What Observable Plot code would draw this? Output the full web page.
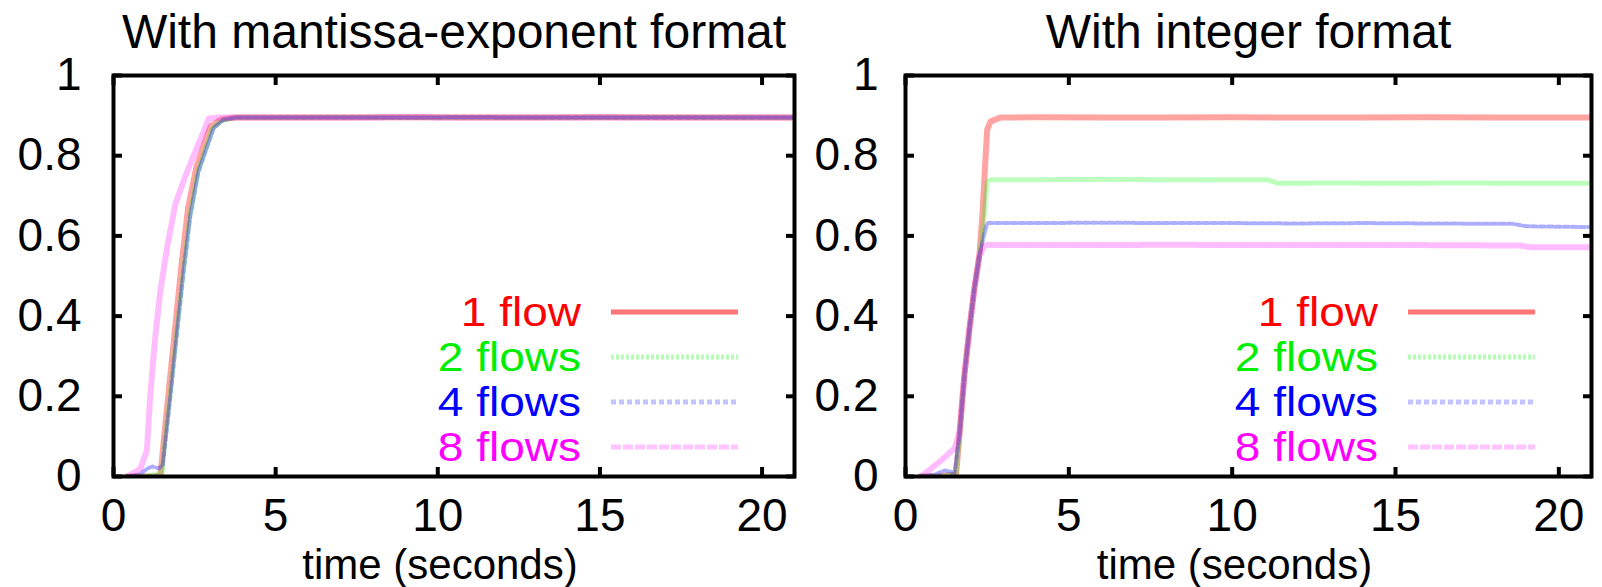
<!DOCTYPE html>
<html><head><meta charset="utf-8">
<script src="https://cdn.jsdelivr.net/npm/d3@7"></script>
<script src="https://cdn.jsdelivr.net/npm/@observablehq/plot@0.6"></script>
<style>
html,body{margin:0;padding:0;background:#fff;}
#wrap{position:relative;width:1602px;height:587px;overflow:hidden;background:#fff;}
.panel{position:absolute;top:0;}
</style></head><body><div id="wrap"></div>
<script>
// ---- labels / categories ----
const seriesNames = ["1 flow", "2 flows", "4 flows", "8 flows"];
const panelTitles = ["With mantissa-exponent format", "With integer format"];
const xLabel = "time (seconds)";
const xTicks = [0, 5, 10, 15, 20];
const yTicks = [0, 0.2, 0.4, 0.6, 0.8, 1];
const yTickLabels = ["0", "0.2", "0.4", "0.6", "0.8", "1"];

// ---- left panel: mantissa-exponent format ----
const leftT1 = [0.4, 0.9, 1.3, 1.45, 1.55, 1.7, 1.9, 2.1, 2.3, 2.55, 2.8, 3.0, 3.3, 3.7, 5, 7, 9, 11, 13, 15, 17, 19, 21];
const leftV1 = [0, 0, 0, 0.005, 0.09, 0.21, 0.37, 0.53, 0.67, 0.77, 0.83, 0.873, 0.89, 0.895, 0.895, 0.895, 0.896, 0.895, 0.895, 0.896, 0.895, 0.895, 0.895];
const leftT2 = [0.45, 0.9, 1.3, 1.5, 1.6, 1.75, 1.95, 2.15, 2.35, 2.6, 2.85, 3.05, 3.35, 3.8, 5, 7, 9, 11, 13, 15, 17, 19, 21];
const leftV2 = [0, 0, 0.005, 0.01, 0.1, 0.21, 0.36, 0.51, 0.65, 0.76, 0.82, 0.868, 0.888, 0.895, 0.895, 0.896, 0.895, 0.895, 0.895, 0.895, 0.896, 0.895, 0.895];
const leftT4 = [0.42, 0.8, 1.05, 1.2, 1.4, 1.52, 1.62, 1.77, 1.96, 2.16, 2.37, 2.62, 2.88, 3.1, 3.4, 3.8, 5, 7, 9, 11, 13, 15, 17, 19, 21];
const leftV4 = [0, 0.005, 0.02, 0.025, 0.02, 0.03, 0.1, 0.21, 0.36, 0.51, 0.65, 0.76, 0.82, 0.87, 0.89, 0.895, 0.895, 0.895, 0.895, 0.896, 0.895, 0.895, 0.895, 0.895, 0.895];
const leftT8 = [0.45, 0.83, 1.03, 1.13, 1.29, 1.44, 1.65, 1.91, 2.22, 2.47, 2.78, 2.94, 3.2, 5, 7, 9, 11, 13, 15, 17, 19, 21];
const leftV8 = [0, 0.02, 0.065, 0.2, 0.35, 0.46, 0.57, 0.68, 0.75, 0.8, 0.86, 0.893, 0.895, 0.895, 0.895, 0.896, 0.895, 0.895, 0.895, 0.895, 0.895, 0.895];

// ---- right panel: integer format ----
const rightT1 = [0.45, 1.0, 1.55, 1.65, 1.8, 1.96, 2.11, 2.26, 2.36, 2.44, 2.5, 2.6, 2.9, 4, 6, 8, 10, 12, 14, 16, 18, 20, 21];
const rightV1 = [0, 0, 0.005, 0.1, 0.25, 0.37, 0.47, 0.55, 0.66, 0.78, 0.865, 0.885, 0.895, 0.896, 0.895, 0.895, 0.896, 0.895, 0.895, 0.896, 0.895, 0.895, 0.895];
const rightT2 = [0.45, 1.0, 1.55, 1.65, 1.8, 1.96, 2.11, 2.26, 2.4, 2.5, 2.6, 4, 6, 8, 10, 11.1, 11.4, 13, 15, 17, 19, 21];
const rightV2 = [0, 0, 0.005, 0.1, 0.25, 0.37, 0.47, 0.55, 0.64, 0.735, 0.74, 0.74, 0.741, 0.74, 0.74, 0.74, 0.731, 0.732, 0.731, 0.732, 0.731, 0.731];
const rightT4 = [0.45, 0.9, 1.2, 1.5, 1.65, 1.8, 1.96, 2.11, 2.26, 2.4, 2.5, 4, 6, 8, 10, 12, 14, 16, 18.6, 19, 21];
const rightV4 = [0, 0.005, 0.015, 0.01, 0.1, 0.25, 0.37, 0.47, 0.55, 0.6, 0.632, 0.632, 0.633, 0.632, 0.632, 0.631, 0.632, 0.631, 0.63, 0.624, 0.622];
const rightT8 = [0.48, 1.09, 1.5, 1.65, 1.8, 1.96, 2.11, 2.26, 2.4, 2.5, 4, 6, 8, 10, 12, 14, 16, 18.8, 19.1, 21];
const rightV8 = [0, 0.04, 0.07, 0.11, 0.25, 0.37, 0.47, 0.55, 0.574, 0.577, 0.577, 0.577, 0.578, 0.577, 0.577, 0.577, 0.577, 0.576, 0.572, 0.572];

// ---- styles ----
const lineColors = ["#ff0000", "#00ff00", "#0000ff", "#ff00ff"];
const lineOpacity = [0.36, 0.26, 0.32, 0.26];
const lineWidths = [6, 5, 4, 6];
const lineDash = [null, "3 2", "5 3", "10 2"];
const textColors = ["#ff0000", "#00ee00", "#0000ff", "#ff00ff"];
const legendStroke = ["#ff7474", "#b4ffb4", "#c4c4ff", "#ffc4ff"];

const FONT = "'Liberation Sans', Arial, Helvetica, sans-serif";
const LEGEND_FS = 40, LEGEND_WIDE = 46 / 40;

function makePanel(k, times, values, left, ml, mr, yLabelGap) {
  const W = 801, H = 587, MT = 75, MB = 111;
  const rows = [];
  times.forEach((ts, s) => ts.forEach((t, i) => rows.push({t, v: values[s][i], s})));
  const lineMarks = seriesNames.map((name, s) =>
    Plot.line(rows.filter(d => d.s === s), {
      x: "t", y: "v",
      stroke: lineColors[s], strokeOpacity: lineOpacity[s], strokeWidth: lineWidths[s],
      strokeDasharray: lineDash[s], strokeLinejoin: "round", clip: true
    })
  );
  const svg = Plot.plot({
    width: W, height: H,
    marginLeft: ml, marginRight: mr, marginTop: MT, marginBottom: MB,
    x: {domain: [0, 21]},
    y: {domain: [0, 1]},
    style: {fontFamily: FONT, fontSize: "46px", color: "#000", background: "transparent", overflow: "visible"},
    marks: [
      ...lineMarks,
      Plot.frame({stroke: "#000", strokeWidth: 4}),
      Plot.axisX(xTicks, {anchor: "bottom", tickSize: -9, strokeWidth: 4, fill: "none", label: null}),
      Plot.axisX(xTicks, {anchor: "top", tickSize: -9, strokeWidth: 4, fill: "none", label: null}),
      Plot.axisY(yTicks, {anchor: "left", tickSize: -9, strokeWidth: 4, fill: "none", label: null}),
      Plot.axisY(yTicks, {anchor: "right", tickSize: -9, strokeWidth: 4, fill: "none", label: null}),
      Plot.axisX(xTicks, {anchor: "bottom", tickSize: 0, tickPadding: 22, label: null, fontSize: 46, fill: "#000",
        tickFormat: d => String(d)}),
      Plot.axisY(yTicks, {anchor: "left", tickSize: 0, tickPadding: yLabelGap, label: null, fontSize: 46, fill: "#000",
        tickFormat: d => yTickLabels[yTicks.indexOf(d)]}),
      Plot.text([panelTitles[k]], {frameAnchor: "top", dy: -28, lineAnchor: "bottom", fontSize: 48, fill: "#000"}),
      Plot.text([xLabel], {frameAnchor: "bottom", dy: 102, dx: -14, lineAnchor: "bottom", fontSize: 42, fill: "#000"})
    ]
  });
  const div = document.createElement("div");
  div.className = "panel";
  div.style.left = left + "px";
  div.appendChild(svg);
  document.getElementById("wrap").appendChild(div);

  // legend (inside the frame, bottom right)
  const frameRight = W - mr, frameBottom = H - MB;
  const g = d3.select(svg).append("g").attr("font-family", FONT).attr("font-size", LEGEND_FS);
  seriesNames.forEach((name, s) => {
    const y = frameBottom - 29 - (seriesNames.length - 1 - s) * 45;
    const t = g.append("text").attr("x", frameRight - 213).attr("y", y).attr("dy", "0.36em")
      .attr("text-anchor", "end").attr("fill", textColors[s]).text(name);
    const len = t.node().getComputedTextLength();
    t.attr("textLength", len * LEGEND_WIDE).attr("lengthAdjust", "spacingAndGlyphs");
    g.append("line").attr("x1", frameRight - 183).attr("x2", frameRight - 56)
      .attr("y1", y).attr("y2", y)
      .attr("stroke", legendStroke[s]).attr("stroke-width", 5)
      .attr("stroke-dasharray", lineDash[s]);
  });
}

makePanel(0, [leftT1, leftT2, leftT4, leftT8], [leftV1, leftV2, leftV4, leftV8], 0, 113, 7, 32);
makePanel(1, [rightT1, rightT2, rightT4, rightT8], [rightV1, rightV2, rightV4, rightV8], 801, 104, 11, 27);
</script></body></html>
